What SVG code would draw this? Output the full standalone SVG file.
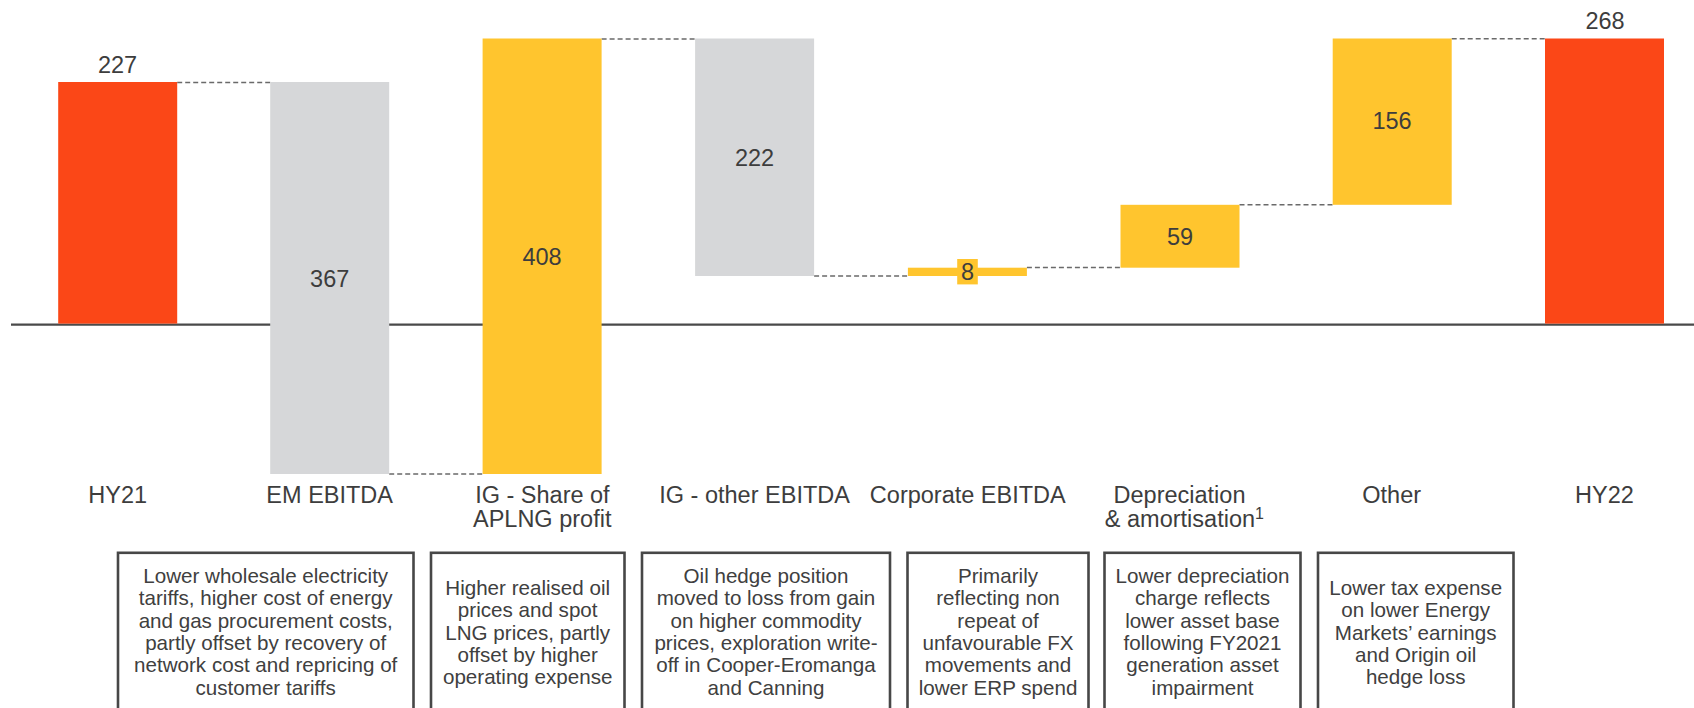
<svg xmlns="http://www.w3.org/2000/svg" width="1694" height="708" viewBox="0 0 1694 708">
<style>
.t{font-family:"Liberation Sans",Arial,sans-serif;fill:#3d3d3d;text-anchor:middle}
.val{font-size:23.5px}
.cat{font-size:23.5px}
.desc{font-size:20.6px;fill:#404040}
.red{fill:#FB4717}
.gray{fill:#D6D7D9}
.yel{fill:#FFC52E}
.conn{stroke:#6a6a6a;stroke-width:1.4;stroke-dasharray:5 3;fill:none}
.box{fill:none;stroke:#474747;stroke-width:2.6}
</style>
<rect width="1694" height="708" fill="#ffffff"/>
<line x1="11" y1="324.6" x2="1694" y2="324.6" stroke="#4a4a4a" stroke-width="2.4"/>
<g id="connectors">
<line class="conn" x1="177.2" y1="82.5" x2="270.2" y2="82.5"/>
<line class="conn" x1="389.2" y1="474" x2="482.6" y2="474"/>
<line class="conn" x1="601.6" y1="39" x2="695.1" y2="39"/>
<line class="conn" x1="814.1" y1="276" x2="907.9" y2="276"/>
<line class="conn" x1="1026.9" y1="267.5" x2="1120.5" y2="267.5"/>
<line class="conn" x1="1239.5" y1="204.8" x2="1332.7" y2="204.8"/>
<line class="conn" x1="1451.7" y1="38.8" x2="1545" y2="38.8"/>
</g>
<g id="hy21">
<rect class="red" x="58.2" y="82" width="119" height="241.6"/>
<text class="t val" x="117.5" y="72.5">227</text>
<text class="t cat" x="117.7" y="502.7">HY21</text>
</g>
<g id="em-ebitda">
<rect class="gray" x="270.2" y="82" width="119" height="392"/>
<text class="t val" x="329.7" y="286.5">367</text>
<text class="t cat" x="329.7" y="502.7">EM EBITDA</text>
<rect class="box" x="118" y="552.8" width="295.5" height="170"/>
<text class="t desc" x="265.7" y="583">Lower wholesale electricity</text>
<text class="t desc" x="265.7" y="605.3">tariffs, higher cost of energy</text>
<text class="t desc" x="265.7" y="627.6">and gas procurement costs,</text>
<text class="t desc" x="265.7" y="649.9">partly offset by recovery of</text>
<text class="t desc" x="265.7" y="672.2">network cost and repricing of</text>
<text class="t desc" x="265.7" y="694.5">customer tariffs</text>
</g>
<g id="ig-aplng">
<rect class="yel" x="482.6" y="38.5" width="119" height="435.5"/>
<text class="t val" x="542" y="264.8">408</text>
<text class="t cat" x="542.4" y="502.7">IG - Share of</text>
<text class="t cat" x="542.2" y="527.3">APLNG profit</text>
<rect class="box" x="431" y="552.8" width="193.5" height="170"/>
<text class="t desc" x="527.7" y="595">Higher realised oil</text>
<text class="t desc" x="527.7" y="617.3">prices and spot</text>
<text class="t desc" x="527.7" y="639.6">LNG prices, partly</text>
<text class="t desc" x="527.7" y="661.9">offset by higher</text>
<text class="t desc" x="527.7" y="684.2">operating expense</text>
</g>
<g id="ig-other">
<rect class="gray" x="695.1" y="38.5" width="119" height="237.5"/>
<text class="t val" x="754.6" y="165.5">222</text>
<text class="t cat" x="754.6" y="502.7">IG - other EBITDA</text>
<rect class="box" x="642" y="552.8" width="248" height="170"/>
<text class="t desc" x="766" y="583">Oil hedge position</text>
<text class="t desc" x="766" y="605.3">moved to loss from gain</text>
<text class="t desc" x="766" y="627.6">on higher commodity</text>
<text class="t desc" x="766" y="649.9">prices, exploration write-</text>
<text class="t desc" x="766" y="672.2">off in Cooper-Eromanga</text>
<text class="t desc" x="766" y="694.5">and Canning</text>
</g>
<g id="corporate">
<rect class="yel" x="907.9" y="267.7" width="119" height="8.3"/>
<rect class="yel" x="957.2" y="259" width="20.6" height="25.4"/>
<text class="t val" x="967.5" y="279.5">8</text>
<text class="t cat" x="967.8" y="502.7">Corporate EBITDA</text>
<rect class="box" x="907.5" y="552.8" width="181" height="170"/>
<text class="t desc" x="998" y="583">Primarily</text>
<text class="t desc" x="998" y="605.3">reflecting non</text>
<text class="t desc" x="998" y="627.6">repeat of</text>
<text class="t desc" x="998" y="649.9">unfavourable FX</text>
<text class="t desc" x="998" y="672.2">movements and</text>
<text class="t desc" x="998" y="694.5">lower ERP spend</text>
</g>
<g id="depreciation">
<rect class="yel" x="1120.5" y="204.8" width="119" height="62.9"/>
<text class="t val" x="1180" y="244.5">59</text>
<text class="t cat" x="1179.5" y="502.7">Depreciation</text>
<text class="t cat" x="1184.4" y="527.3">&amp; amortisation<tspan font-size="16" dy="-8.5">1</tspan></text>
<rect class="box" x="1104.5" y="552.8" width="196" height="170"/>
<text class="t desc" x="1202.5" y="583">Lower depreciation</text>
<text class="t desc" x="1202.5" y="605.3">charge reflects</text>
<text class="t desc" x="1202.5" y="627.6">lower asset base</text>
<text class="t desc" x="1202.5" y="649.9">following FY2021</text>
<text class="t desc" x="1202.5" y="672.2">generation asset</text>
<text class="t desc" x="1202.5" y="694.5">impairment</text>
</g>
<g id="other">
<rect class="yel" x="1332.7" y="38.5" width="119" height="166.3"/>
<text class="t val" x="1392" y="129.3">156</text>
<text class="t cat" x="1391.7" y="502.7">Other</text>
<rect class="box" x="1318" y="552.8" width="195.5" height="170"/>
<text class="t desc" x="1415.7" y="595">Lower tax expense</text>
<text class="t desc" x="1415.7" y="617.3">on lower Energy</text>
<text class="t desc" x="1415.7" y="639.6">Markets’ earnings</text>
<text class="t desc" x="1415.7" y="661.9">and Origin oil</text>
<text class="t desc" x="1415.7" y="684.2">hedge loss</text>
</g>
<g id="hy22">
<rect class="red" x="1545" y="38.5" width="119" height="285.1"/>
<text class="t val" x="1605" y="29">268</text>
<text class="t cat" x="1604.5" y="502.7">HY22</text>
</g>
</svg>
